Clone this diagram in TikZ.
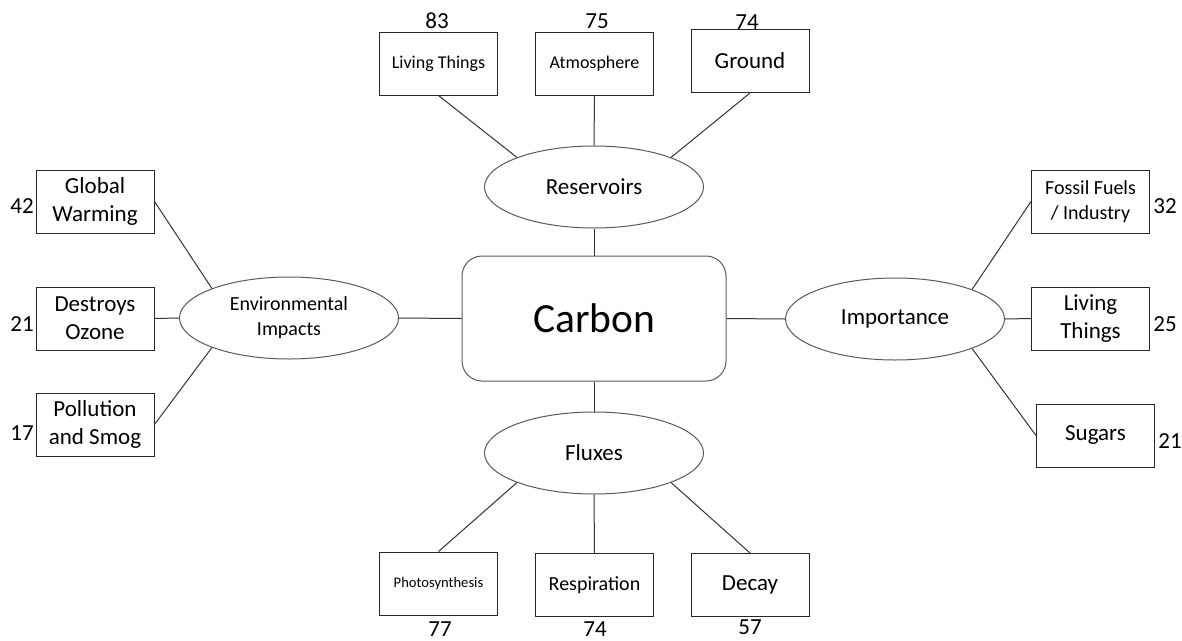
\documentclass[tikz,border=0pt]{standalone}
\usepackage{fontspec}
\setmainfont{Carlito}
\usetikzlibrary{shapes.geometric}
\newcommand\txtsize[2]{\fontsize{#1}{#2}\selectfont}
\begin{document}
\begin{tikzpicture}[x=1pt,y=-1pt,
  box/.style={draw=black!85, line width=1pt, rectangle, inner sep=0pt,
    minimum width=118pt, minimum height=63pt, align=center},
  oval/.style={draw=black!65, line width=1pt, ellipse, inner sep=0pt,
    minimum width=219pt, minimum height=82pt, align=center,
    font=\txtsize{23}{28}},
  hub/.style={draw=black!65, line width=1pt, rounded corners=20pt,
    minimum width=264pt, minimum height=125pt, inner sep=0pt,
    font=\txtsize{41.5}{50}},
  link/.style={draw=black!80, line width=1pt},
  num/.style={inner sep=0pt, anchor=base, font=\txtsize{23}{28}},
  big/.style={font=\txtsize{23}{28}},
  mid/.style={font=\txtsize{20}{25}},
  small/.style={font=\txtsize{18}{22}},
  tiny/.style={font=\txtsize{14.6}{18}},
]
\useasboundingbox (0,0) rectangle (1182,640);

% central topic
\node[hub] (carbon) at (594,318.5) {Carbon};

% branch ovals
\node[oval] (res)  at (594,187) {Reservoirs};
\node[oval, font=\txtsize{20}{25}] (env) at (289,318) {Environmental\\Impacts};
\node[oval] (imp)  at (895,319) {Importance};
\node[oval] (flux) at (594,453) {Fluxes};

% reservoirs
\node[box, small] (res1) at (438.5,63.5) {Living Things};
\node[box, small] (res2) at (594.5,63.5) {Atmosphere};
\node[box, big]   (res3) at (750,61)     {Ground};

% environmental impacts
\node[box, big] (env1) at (95,201.5) {Global\\Warming};
\node[box, big] (env2) at (95,318.5) {Destroys\\Ozone};
\node[box, big] (env3) at (95,424.5) {Pollution\\and Smog};

% importance
\node[box, mid] (imp1) at (1090.5,201.5) {Fossil Fuels\\/ Industry};
\node[box, big] (imp2) at (1090.5,318.5) {Living\\Things};
\node[box, big] (imp3) at (1095.5,435.5) {Sugars};

% fluxes
\node[box, tiny] (flux1) at (438.5,583.5) {Photosynthesis};
\node[box, mid]  (flux2) at (594.5,585)   {Respiration};
\node[box, big]  (flux3) at (750,585)     {Decay};

% counts
\node[num] (n1)  at (437,28)   {83};
\node[num] (n2)  at (597,28)   {75};
\node[num] (n3)  at (747,29)   {74};
\node[num] (n4)  at (22,213)   {42};
\node[num] (n5)  at (22,331)   {21};
\node[num] (n6)  at (22,440)   {17};
\node[num] (n7)  at (1165,213) {32};
\node[num] (n8)  at (1165,331) {25};
\node[num] (n9)  at (1170,448) {21};
\node[num] (n10) at (440,636)  {77};
\node[num] (n11) at (595,636)  {74};
\node[num] (n12) at (750,634)  {57};

% connectors
\draw[link] (res1.south) -- (res.159);
\draw[link] (res2.south) -- (res.north);
\draw[link] (res3.south) -- (res.21);
\draw[link] (res.south) -- (carbon.north);

\draw[link] (carbon.west) -- (env.east);
\draw[link] (env1.east) -- (env.159);
\draw[link] (env2.east) -- (env.west);
\draw[link] (env3.east) -- (env.201);

\draw[link] (carbon.east) -- (imp.west);
\draw[link] (imp1.west) -- (imp.21);
\draw[link] (imp2.west) -- (imp.east);
\draw[link] (imp3.west) -- (imp.339);

\draw[link] (carbon.south) -- (flux.north);
\draw[link] (flux1.north) -- (flux.201);
\draw[link] (flux2.north) -- (flux.south);
\draw[link] (flux3.north) -- (flux.339);
\end{tikzpicture}
\end{document}
